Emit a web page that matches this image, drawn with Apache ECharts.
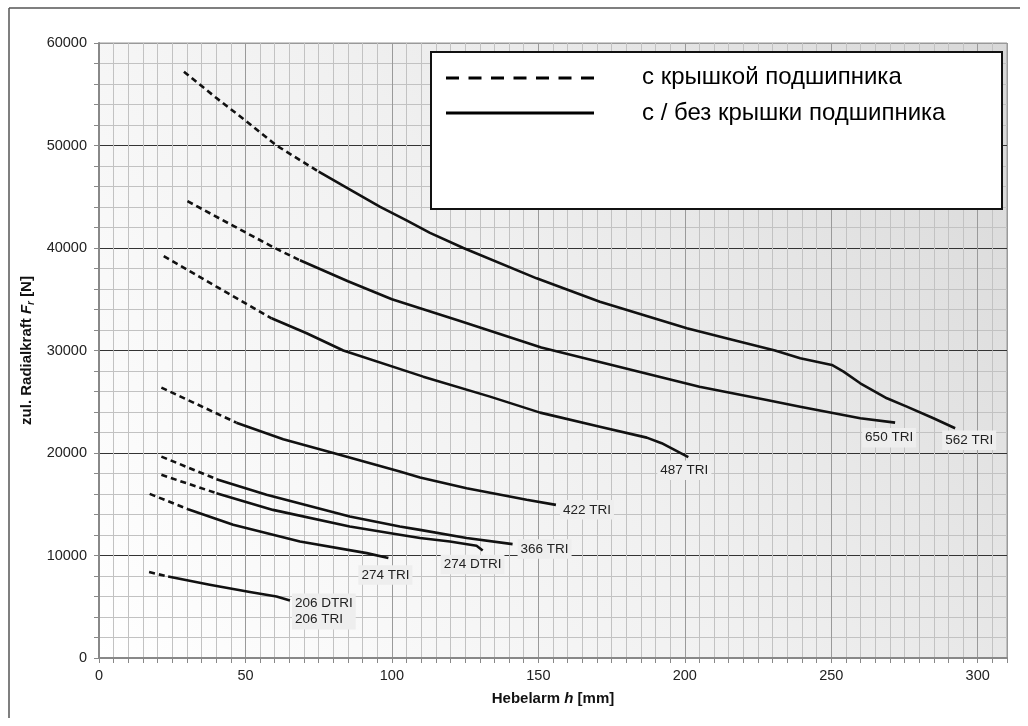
<!DOCTYPE html>
<html>
<head>
<meta charset="utf-8">
<script src="https://cdn.jsdelivr.net/npm/echarts@6/dist/echarts.min.js"></script>
<style>
html, body { margin: 0; padding: 0; background: #fff; }
#main { width: 1028px; height: 726px; }
</style>
</head>
<body>
<div id="main"></div>
<script>
// Punkte: [Hebelarm h (mm), zul. Radialkraft Fr (N)]
// jeweils gestrichelter Anfang (mit Lagerdeckel) und durchgezogener Rest
const c562Dash = [[29, 57200], [40, 54650], [50.4, 52350], [60.6, 50000], [75, 47450]];
const c562Solid = [[75, 47450], [86, 45650], [96, 44020], [105, 42700], [113, 41480], [124.4, 40000],
    [149.4, 37040], [171, 34760], [200.7, 32160], [215.5, 31090], [230.8, 30000], [239.4, 29240],
    [250.2, 28590], [254.2, 27940], [259.9, 26800], [269, 25340], [275.8, 24520], [284.9, 23390], [292.3, 22420]];

const c650Dash = [[30.2, 44570], [42, 42750], [60, 40000], [68.6, 38800]];
const c650Solid = [[68.6, 38800], [85, 36750], [100, 35000], [123, 32900], [151, 30300], [205, 26470],
    [228, 25180], [239.4, 24520], [259.9, 23390], [271.8, 22960]];

const c487Dash = [[22.1, 39210], [40.1, 36220], [58.9, 33140]];
const c487Solid = [[58.9, 33140], [70.9, 31680], [83.4, 30000], [110.7, 27450], [133.5, 25500],
    [150.6, 23940], [171, 22570], [187, 21500], [192.1, 20960], [201.2, 19590]];

const c422Dash = [[21.3, 26380], [46.9, 22960]];
const c422Solid = [[46.9, 22960], [62.9, 21350], [80, 20000], [102.7, 18190], [109.6, 17600],
    [125.5, 16570], [146, 15430], [156, 14940]];

const c366Dash = [[21.3, 19650], [40.1, 17450]];
const c366Solid = [[40.1, 17450], [57.2, 15920], [85.6, 13800], [102.7, 12830], [109.6, 12500],
    [125.5, 11700], [141.2, 11110]];

const c274dDash = [[21.3, 17870], [40.1, 16080]];
const c274dSolid = [[40.1, 16080], [59.4, 14450], [85.6, 12830], [102.7, 12020], [109.6, 11700],
    [119.8, 11370], [128.9, 10950], [131, 10490]];

const c274Dash = [[17.3, 16010], [30.4, 14520]];
const c274Solid = [[30.4, 14520], [45.8, 12990], [68.6, 11370], [91.4, 10230], [98.8, 9750]];

const c206Dash = [[17.1, 8380], [23.6, 7950]];
const c206Solid = [[23.6, 7950], [37.8, 7140], [51.5, 6430], [60.6, 6000], [65.2, 5610]];

const curveLabels = ['562 TRI', '650 TRI', '487 TRI', '422 TRI', '366 TRI', '274 DTRI', '274 TRI', '206 DTRI\n206 TRI'];
const dashParts = [c562Dash, c650Dash, c487Dash, c422Dash, c366Dash, c274dDash, c274Dash, c206Dash];
const solidParts = [c562Solid, c650Solid, c487Solid, c422Solid, c366Solid, c274dSolid, c274Solid, c206Solid];

const legendNames = ['с крышкой подшипника', 'с / без крышки подшипника'];

// Lage der Beschriftung relativ zum Kurvenende (Textanfang x, Mitte y)
const labelOffsets = [[-10, 12], [-30, 15], [-28, 13], [7, 5], [8, 5], [-39, 14], [-27, 17], [5, 11]];

var myChart = echarts.init(document.getElementById('main'));

var series = [];
for (let i = 0; i < curveLabels.length; i++) {
    series.push({
        name: legendNames[0],
        type: 'line',
        data: dashParts[i],
        symbol: 'none',
        silent: true,
        lineStyle: { color: '#111', width: 2.6, type: [6, 4] },
        z: 5
    });
    series.push({
        name: legendNames[1],
        type: 'line',
        data: solidParts[i],
        symbol: 'none',
        silent: true,
        lineStyle: { color: '#111', width: 2.6, join: 'round' },
        z: 5,
        endLabel: {
            show: true,
            formatter: curveLabels[i],
            distance: 0,
            offset: [labelOffsets[i][0] - 3, labelOffsets[i][1]],
            align: 'left',
            fontFamily: 'Arial',
            fontSize: 13.5,
            lineHeight: 16.5,
            color: '#222',
            backgroundColor: '#eeeeee',
            padding: [2, 3, 1, 3]
        }
    });
}

var option = {
    animation: false,
    grid: {
        left: 99, top: 43, right: 21, bottom: 68,
        show: true,
        borderColor: '#999',
        borderWidth: 1,
        backgroundColor: {
            type: 'linear', x: 0, y: 1, x2: 1, y2: 0,
            colorStops: [
                { offset: 0, color: '#ffffff' },
                { offset: 0.5, color: '#f0f0f0' },
                { offset: 1, color: '#d8d8d8' }
            ]
        }
    },
    xAxis: [
        {
            // feines Raster alle 5 mm
            type: 'value', min: 0, max: 310, interval: 5, position: 'bottom',
            axisLine: { show: true, lineStyle: { color: '#888', width: 2 } },
            axisTick: { show: true, length: 5, lineStyle: { color: '#888' } },
            axisLabel: { show: false },
            splitLine: { show: true, lineStyle: { color: '#c2c2c2', width: 1 } }
        },
        {
            type: 'value', min: 0, max: 310, interval: 50, position: 'bottom',
            axisLine: { show: false },
            axisTick: { show: false },
            axisLabel: {
                fontFamily: 'Arial', fontSize: 14.5, color: '#222', margin: 10,
                formatter: function (v) { return v % 50 === 0 ? String(v) : ''; }
            },
            splitLine: { show: true, lineStyle: { color: '#9a9a9a', width: 1 } },
            name: '{b|Hebelarm }{bi|h}{b| [mm]}',
            nameLocation: 'middle',
            nameGap: 33,
            nameTextStyle: {
                rich: {
                    b: { fontFamily: 'Arial', fontWeight: 'bold', fontSize: 15, color: '#111' },
                    bi: { fontFamily: 'Arial', fontWeight: 'bold', fontStyle: 'italic', fontSize: 15, color: '#111' }
                }
            }
        }
    ],
    yAxis: {
        type: 'value', min: 0, max: 60000, interval: 10000,
        axisLine: { show: true, lineStyle: { color: '#888', width: 2 } },
        axisTick: { show: true, length: 5, lineStyle: { color: '#888' } },
        minorTick: { show: true, splitNumber: 5, length: 5, lineStyle: { color: '#888' } },
        splitLine: { show: true, lineStyle: { color: ['#333', '#333', '#333', '#333', '#333', '#333', '#999'], width: 1 } },
        minorSplitLine: { show: true, lineStyle: { color: '#c2c2c2', width: 1 } },
        axisLabel: {
            fontFamily: 'Arial', fontSize: 14.5, color: '#222', margin: 12,
            formatter: function (v) { return String(v); }
        },
        name: '{b|zul. Radialkraft }{bi|F}{sub|r}{b| [N]}',
        nameLocation: 'middle',
        nameGap: 45,
        nameTextStyle: {
            rich: {
                b: { fontFamily: 'Arial', fontWeight: 'bold', fontSize: 15, color: '#111', lineHeight: 18 },
                bi: { fontFamily: 'Arial', fontWeight: 'bold', fontStyle: 'italic', fontSize: 15, color: '#111', lineHeight: 18 },
                sub: { fontFamily: 'Arial', fontWeight: 'bold', fontStyle: 'italic', fontSize: 10, color: '#111', lineHeight: 10, verticalAlign: 'bottom' }
            }
        }
    },
    series: series,
    graphic: [
        // Rahmen oben und links
        { type: 'line', shape: { x1: 9, y1: 8, x2: 1020, y2: 8 }, style: { stroke: '#555', lineWidth: 1.5 }, z: 100 },
        { type: 'line', shape: { x1: 9, y1: 8, x2: 9, y2: 718 }, style: { stroke: '#555', lineWidth: 1.5 }, z: 100 },
        // Legende
        { type: 'rect', shape: { x: 431, y: 52, width: 571, height: 157 }, style: { fill: '#fff', stroke: '#111', lineWidth: 2 }, z: 100 },
        { type: 'line', shape: { x1: 446, y1: 78, x2: 594, y2: 78 }, style: { stroke: '#000', lineWidth: 3, lineDash: [13, 9.5] }, z: 101 },
        { type: 'line', shape: { x1: 446, y1: 113, x2: 594, y2: 113 }, style: { stroke: '#000', lineWidth: 3 }, z: 101 },
        { type: 'text', x: 642, y: 77.5, style: { text: legendNames[0], font: '24px Arial', fill: '#000', verticalAlign: 'middle' }, z: 101 },
        { type: 'text', x: 642, y: 113, style: { text: legendNames[1], font: '24px Arial', fill: '#000', verticalAlign: 'middle' }, z: 101 }
    ]
};

myChart.setOption(option);
</script>
</body>
</html>
